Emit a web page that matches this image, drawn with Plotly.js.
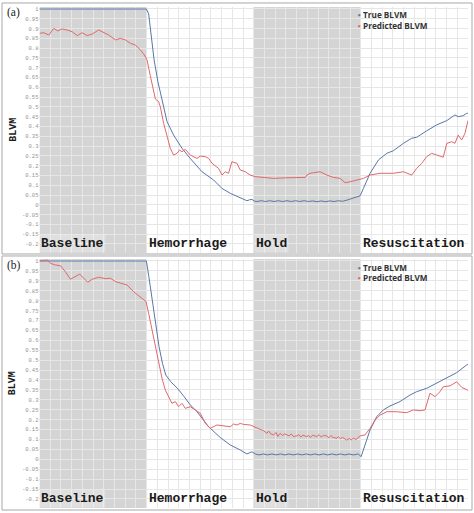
<!DOCTYPE html>
<html>
<head>
<meta charset="utf-8">
<script src="https://cdn.plot.ly/plotly-3.0.1.min.js"></script>
<style>
  html, body { margin: 0; padding: 0; background: #fff; }
  #chart { width: 474px; height: 513px; }
</style>
</head>
<body>
<div id="chart"></div>
<script>
// phases (time axis 0..400, one hundred units per phase)
const phaseNames = ['Baseline', 'Hemorrhage', 'Hold', 'Resuscitation'];
const phaseStarts = [0, 100, 200, 300];
const shadedPhases = [[0, 100], [200, 300]];

const yTickVals = [1, 0.95, 0.9, 0.85, 0.8, 0.75, 0.7, 0.65, 0.6, 0.55, 0.5, 0.45, 0.4,
  0.35, 0.3, 0.25, 0.2, 0.15, 0.1, 0.05, 0, -0.05, -0.1, -0.15, -0.2];
const yTickText = ['1', '0.95', '0.9', '0.85', '0.8', '0.75', '0.7', '0.65', '0.6', '0.55', '0.5', '0.45', '0.4',
  '0.35', '0.3', '0.25', '0.2', '0.15', '0.1', '0.05', '0', '-0.05', '-0.1', '-0.15', '-0.2'];

// panel (a)
const trueTimeA = [0, 99.8, 101.9, 105.1, 107, 110.5, 114.4, 119.1, 125.2, 133, 140.7, 151.7, 162.5, 170.3,
  178, 187.4, 193.6, 196.3, 198.3, 201, 203, 207, 211, 215, 219, 223, 227, 231, 235, 239, 243, 247, 251,
  255, 259, 263, 267, 271, 275, 279, 283, 287, 290, 294, 297.7, 299.3, 302.4, 308.6, 316.4, 324.2, 330.3,
  339.7, 347.5, 352.1, 361.5, 370.7, 380.2, 387.8, 390.9, 395.5, 398.7, 400];
const trueA = [1, 1, 0.975, 0.84, 0.74, 0.63, 0.535, 0.424, 0.356, 0.289, 0.237, 0.169, 0.127, 0.084,
  0.059, 0.038, 0.021, 0.026, 0.028, 0.018, 0.017, 0.021, 0.017, 0.021, 0.017, 0.021, 0.017, 0.021, 0.017,
  0.021, 0.017, 0.021, 0.017, 0.02, 0.016, 0.02, 0.016, 0.02, 0.017, 0.021, 0.018, 0.024, 0.03, 0.037,
  0.045, 0.046, 0.084, 0.161, 0.229, 0.263, 0.276, 0.314, 0.34, 0.345, 0.378, 0.408, 0.43, 0.459, 0.45,
  0.455, 0.467, 0.468];

const predTimeA = [0, 4, 8.7, 13.3, 17.1, 21.2, 25.8, 30.5, 35.2, 39.8, 44.5, 49.2, 55.3, 59.9, 64.6, 70.9,
  75.5, 80.2, 84.9, 89.5, 94.2, 97.9, 100.4, 103.4, 106.5, 108.2, 111.2, 112.8, 115.9, 119.1, 122.1, 125.2,
  128.4, 130.8, 133, 136.1, 140.8, 147.1, 150.1, 154.8, 157.9, 161.1, 164.1, 167.2, 170.4, 173.4, 176.5,
  179.6, 184.3, 187.4, 192.1, 196.7, 201.4, 209.2, 218.5, 230.9, 240.3, 248, 249.6, 252.7, 255.8, 262,
  268.2, 274.4, 280.7, 285.3, 290, 296.2, 302.4, 308.6, 317.9, 330.3, 339.7, 347.5, 352.1, 356.8, 361.5,
  366.1, 370.7, 376.9, 380.2, 384.8, 387.8, 390.9, 394.1, 397.2, 400];
const predA = [0.876, 0.879, 0.867, 0.901, 0.888, 0.898, 0.893, 0.884, 0.864, 0.879, 0.864, 0.872, 0.893,
  0.881, 0.867, 0.842, 0.85, 0.842, 0.825, 0.816, 0.791, 0.765, 0.74, 0.66, 0.58, 0.54, 0.527, 0.501, 0.416,
  0.348, 0.289, 0.254, 0.263, 0.28, 0.271, 0.283, 0.254, 0.237, 0.249, 0.246, 0.237, 0.212, 0.198, 0.186,
  0.152, 0.169, 0.161, 0.22, 0.212, 0.178, 0.169, 0.152, 0.144, 0.14, 0.135, 0.138, 0.14, 0.14, 0.152,
  0.161, 0.164, 0.169, 0.152, 0.14, 0.135, 0.113, 0.118, 0.127, 0.135, 0.152, 0.161, 0.161, 0.169, 0.152,
  0.186, 0.212, 0.246, 0.263, 0.254, 0.243, 0.314, 0.322, 0.314, 0.356, 0.331, 0.365, 0.43];

// panel (b)
const trueTimeB = [0, 99.8, 102.1, 105.5, 108.5, 111.6, 114.8, 117.9, 122.6, 128.8, 135, 140.8, 147.1, 153.3,
  157.9, 168.7, 178.1, 187.4, 193.6, 198.3, 201.4, 205, 209, 213, 217, 221, 225, 229, 233, 237, 241, 245,
  249, 253, 257, 261, 265, 269, 273, 277, 281, 285, 289, 293, 297.7, 300.2, 303.9, 308.6, 314.8, 321, 327.2,
  336.5, 345.9, 352.1, 361.5, 370.7, 380.2, 389.5, 398.8, 400];
const trueB = [1, 1, 0.921, 0.787, 0.669, 0.568, 0.484, 0.425, 0.391, 0.358, 0.316, 0.274, 0.24, 0.198,
  0.164, 0.11, 0.072, 0.047, 0.027, 0.038, 0.027, 0.022, 0.027, 0.022, 0.027, 0.022, 0.027, 0.022, 0.027,
  0.022, 0.027, 0.022, 0.027, 0.022, 0.027, 0.022, 0.027, 0.022, 0.027, 0.022, 0.027, 0.022, 0.027, 0.022,
  0.027, 0.013, 0.072, 0.148, 0.215, 0.249, 0.269, 0.291, 0.324, 0.341, 0.358, 0.383, 0.408, 0.437, 0.476,
  0.478];

const predTimeB = [0, 7.2, 10.3, 14.9, 19.6, 24.2, 28.9, 33.6, 37.6, 41.3, 45, 49.2, 55.3, 61.6, 66.2, 70.9,
  77.1, 81.8, 87.9, 94.2, 99.5, 101.9, 105.1, 108.2, 111.2, 114.4, 117.5, 120.6, 123.7, 126.8, 129.9, 133,
  136.1, 140.8, 145.4, 150.1, 154.8, 159.4, 165.7, 171.9, 178.1, 181.2, 184.3, 187.4, 190.5, 196.7, 199.8,
  203, 206, 209, 212.3, 214, 216, 218.5, 221, 222.5, 224.7, 227, 229, 231, 233, 235, 237, 240.3, 242, 244,
  246, 249.6, 251, 253, 255, 258.9, 261, 263, 265, 268.2, 270, 272, 274, 277.6, 279, 281, 283, 286.8, 289,
  291, 293, 295.5, 299.3, 303.9, 308.6, 313.3, 318, 324.2, 333.5, 342.8, 349, 355.2, 359.9, 364.5, 369.2,
  373.9, 376.9, 383.2, 389.4, 394.1, 398.8, 400];
const predB = [1, 1.005, 0.988, 0.98, 0.976, 0.946, 0.908, 0.921, 0.934, 0.913, 0.893, 0.908, 0.918, 0.911,
  0.913, 0.896, 0.888, 0.879, 0.845, 0.82, 0.795, 0.736, 0.652, 0.576, 0.501, 0.408, 0.349, 0.316, 0.282,
  0.291, 0.265, 0.282, 0.257, 0.265, 0.249, 0.232, 0.181, 0.156, 0.173, 0.168, 0.164, 0.178, 0.173, 0.181,
  0.176, 0.173, 0.164, 0.158, 0.151, 0.145, 0.131, 0.142, 0.128, 0.123, 0.135, 0.115, 0.131, 0.12, 0.128,
  0.123, 0.118, 0.128, 0.115, 0.118, 0.125, 0.112, 0.122, 0.114, 0.12, 0.11, 0.122, 0.114, 0.124, 0.112,
  0.12, 0.118, 0.108, 0.12, 0.11, 0.106, 0.114, 0.104, 0.11, 0.097, 0.105, 0.098, 0.106, 0.1, 0.118, 0.123,
  0.156, 0.198, 0.223, 0.24, 0.24, 0.235, 0.249, 0.245, 0.249, 0.333, 0.316, 0.341, 0.366, 0.37, 0.391,
  0.363, 0.353, 0.348];

const trueColor = '#5876a8';
const predColor = '#e0686b';
const shadeColor = '#d4d4d4';
const monoFont = '"Liberation Mono", "Courier New", monospace';

const panels = [
  { label: '(a)', xa: 'x', ya: 'y', trueT: trueTimeA, trueV: trueA, predT: predTimeA, predV: predA,
    domain: [0.5068, 0.9863], frame: [0.5049, 0.9942], labelY: 0.9747, legendY: [0.9717, 0.9503] },
  { label: '(b)', xa: 'x2', ya: 'y2', trueT: trueTimeB, trueV: trueB, predT: predTimeB, predV: predB,
    domain: [0.0096, 0.4951], frame: [0.0058, 0.501], labelY: 0.4834, legendY: [0.4795, 0.4581] }
];

const data = [];
const shapes = [];
const annotations = [];

const axisBase = {
  range: [-0.246, 1.01],
  tickvals: yTickVals,
  ticktext: yTickText,
  tickfont: { family: monoFont, size: 5.5, color: '#959595' },
  showgrid: true,
  gridcolor: '#e6e6e6',
  gridwidth: 1,
  zeroline: false,
  showline: false,
  ticks: '',
  fixedrange: true
};

const layout = {
  width: 474,
  height: 513,
  margin: { l: 0, r: 0, t: 0, b: 0 },
  paper_bgcolor: '#ffffff',
  plot_bgcolor: '#ffffff',
  showlegend: false,
  shapes: shapes,
  annotations: annotations
};

panels.forEach((p, i) => {
  data.push({
    type: 'scatter', mode: 'lines', name: 'True BLVM',
    x: p.trueT, y: p.trueV, xaxis: p.xa, yaxis: p.ya,
    line: { color: trueColor, width: 1 }
  });
  data.push({
    type: 'scatter', mode: 'lines', name: 'Predicted BLVM',
    x: p.predT, y: p.predV, xaxis: p.xa, yaxis: p.ya,
    line: { color: predColor, width: 1 }
  });

  const xKey = i === 0 ? 'xaxis' : 'xaxis2';
  const yKey = i === 0 ? 'yaxis' : 'yaxis2';
  layout[xKey] = {
    domain: [0.0833, 0.9873],
    range: [0, 400],
    dtick: 10,
    showticklabels: false,
    showgrid: true,
    gridcolor: '#e6e6e6',
    zeroline: false,
    showline: false,
    ticks: '',
    anchor: p.ya,
    fixedrange: true
  };
  layout[yKey] = Object.assign({}, axisBase, { domain: p.domain, anchor: p.xa });

  shadedPhases.forEach(([a, b]) => {
    shapes.push({
      type: 'rect', xref: p.xa, yref: p.ya + ' domain', x0: a, x1: b, y0: 0, y1: 1,
      fillcolor: shadeColor, line: { width: 0 }, layer: 'below'
    });
  });

  // panel frame
  shapes.push({
    type: 'rect', xref: 'paper', yref: 'paper', x0: 0.0042, x1: 0.9958, y0: p.frame[0], y1: p.frame[1],
    line: { color: '#a8a8a8', width: 1 }, fillcolor: 'rgba(0,0,0,0)'
  });

  phaseNames.forEach((name, k) => {
    annotations.push({
      xref: p.xa, yref: p.ya, x: phaseStarts[k], y: -0.2, xanchor: 'left', yanchor: 'middle',
      text: '<b>' + name + '</b>', showarrow: false,
      font: { family: monoFont, size: 13, color: '#1a1a1a' },
      bgcolor: 'rgba(255,255,255,0.25)', borderpad: 1
    });
  });

  annotations.push({
    xref: 'paper', yref: 'paper', x: 0.011, y: p.labelY, xanchor: 'left', yanchor: 'middle',
    text: p.label, showarrow: false,
    font: { family: '"Liberation Serif", "DejaVu Serif", serif', size: 11.5, color: '#222' }
  });

  annotations.push({
    xref: 'paper', yref: p.ya + ' domain', x: 0.027, y: 0.5, xanchor: 'center', yanchor: 'middle',
    text: '<b>BLVM</b>', textangle: -90, showarrow: false,
    font: { family: monoFont, size: 10, color: '#1a1a1a' }
  });

  [['True BLVM', trueColor], ['Predicted BLVM', predColor]].forEach(([txt, col], k) => {
    annotations.push({
      xref: 'paper', yref: 'paper', x: 0.753, y: p.legendY[k], xanchor: 'left', yanchor: 'middle',
      text: '<span style="color:' + col + '">▪</span> <b>' + txt + '</b>', showarrow: false,
      font: { family: '"Open Sans", sans-serif', size: 8.2, color: '#333' },
      borderpad: 0
    });
  });
});

Plotly.newPlot(document.getElementById('chart'), data, layout, { staticPlot: true, displayModeBar: false });
</script>
</body>
</html>
